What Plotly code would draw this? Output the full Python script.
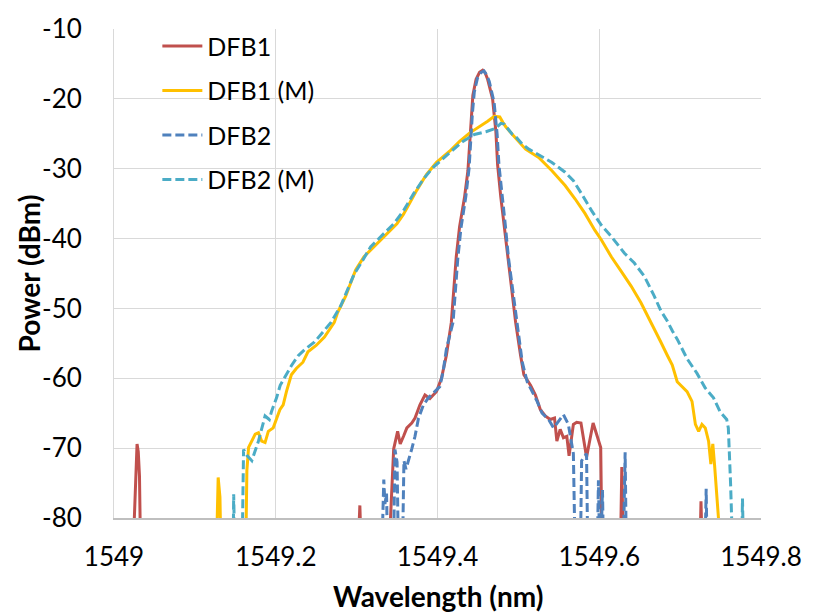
import plotly.graph_objects as go

# ---------------- data ----------------
dfb1_x = [
    1549.0220, 1549.0270, 1549.0285, 1549.0300, 1549.0315, 1549.0335,
    1549.3000, 1549.3040, 1549.3070,
    1549.3380, 1549.3458, 1549.3507, 1549.3539, 1549.3580, 1549.3621, 1549.3682, 1549.3722,
    1549.3783, 1549.3845, 1549.3906, 1549.3988, 1549.4049, 1549.4110, 1549.4171,
    1549.4232, 1549.4273, 1549.4334, 1549.4376, 1549.4395, 1549.4416, 1549.4437, 1549.4477,
    1549.4520, 1549.4559, 1549.4590, 1549.4620, 1549.4681, 1549.4722, 1549.4743, 1549.4783,
    1549.4823, 1549.4865, 1549.4926, 1549.4966, 1549.5027, 1549.5068, 1549.5150, 1549.5211,
    1549.5272, 1549.5333, 1549.5394, 1549.5447, 1549.5476, 1549.5517, 1549.5557, 1549.5599,
    1549.5627, 1549.5680, 1549.5721, 1549.5774, 1549.5843, 1549.5924, 1549.6018, 1549.6040,
    1549.6255, 1549.6279, 1549.6305,
    1549.7235, 1549.7258, 1549.7285,
]
dfb1_y = [
    -90, -72, -69.4, -70.5, -74, -90,
    -90, -78.2, -90,
    -90, -70.1, -67.6, -69.4, -68.3, -67.1, -66.4, -65.7,
    -63.8, -62.4, -62.9, -61.9, -60.0, -56.7, -52.0,
    -42.6, -38.3, -34.1, -30.3, -26.5, -22.3, -19.5, -17.2,
    -16.2, -15.9, -16.3, -17.2, -20.0, -24.7, -29.4, -34.1,
    -37.9, -42.6, -48.2, -52.0, -56.7, -59.5, -61.0, -62.4,
    -64.5, -65.4, -65.9, -65.7, -69.0, -67.3, -68.5, -68.3,
    -71.1, -66.6, -66.3, -66.4, -71.3, -66.4, -69.9, -90,
    -90, -72.7, -90,
    -90, -77.6, -90,
]

dfb1m_x = [
    1549.1256, 1549.1288, 1549.1310, 1549.1330,
    1549.1623, 1549.1643, 1549.1664, 1549.1704, 1549.1746, 1549.1786, 1549.1826, 1549.1868,
    1549.1908, 1549.1969, 1549.2010, 1549.2051, 1549.2092, 1549.2132, 1549.2193, 1549.2254,
    1549.2336, 1549.2398, 1549.2499, 1549.2602, 1549.2724, 1549.2765, 1549.2866, 1549.2927,
    1549.2988, 1549.3091, 1549.3213, 1549.3376, 1549.3498, 1549.3580, 1549.3703, 1549.3743,
    1549.3865, 1549.3988, 1549.4150, 1549.4273, 1549.4395, 1549.4517, 1549.4620, 1549.4701,
    1549.4770, 1549.4810, 1549.4844, 1549.4926, 1549.5089, 1549.5251, 1549.5415, 1549.5578,
    1549.5700, 1549.5823, 1549.5945, 1549.6027, 1549.6149, 1549.6272, 1549.6394, 1549.6516,
    1549.6597, 1549.6679, 1549.6761, 1549.6841, 1549.6903, 1549.6964, 1549.7025, 1549.7086,
    1549.7147, 1549.7189, 1549.7229, 1549.7270, 1549.7311, 1549.7352, 1549.7380, 1549.7404,
    1549.7425, 1549.7446, 1549.7474, 1549.7492,
]
dfb1m_y = [
    -90, -74.2, -77.0, -90,
    -90, -73.2, -69.9, -69.0, -68.0, -67.8, -69.0, -69.2,
    -67.6, -67.1, -65.7, -64.5, -63.8, -61.9, -59.5, -58.6,
    -57.7, -56.2, -55.3, -54.1, -52.0, -50.6, -48.2, -46.3,
    -44.5, -42.6, -41.2, -39.3, -37.9, -36.5, -33.9, -33.1,
    -30.8, -29.1, -27.5, -26.1, -24.9, -24.0, -23.2, -22.5,
    -22.6, -23.4, -24.0, -25.1, -27.2, -28.4, -30.3, -32.4,
    -34.3, -36.4, -38.8, -40.2, -42.6, -44.7, -46.8, -49.2,
    -51.0, -52.9, -54.8, -56.7, -58.1, -60.5, -61.2, -61.9,
    -63.3, -66.6, -67.6, -66.6, -67.1, -69.0, -72.3, -69.4,
    -72.3, -75.6, -80.0, -90,
]

dfb2_x = [
    1549.3300, 1549.3336, 1549.3350, 1549.3370, 1549.3390,
    1549.3450, 1549.3474, 1549.3500, 1549.3523,
    1549.3560, 1549.3585, 1549.3610, 1549.3682, 1549.3722, 1549.3765, 1549.3826, 1549.3887,
    1549.3948, 1549.4028, 1549.4069, 1549.4110, 1549.4192,
    1549.4250, 1549.4290, 1549.4350, 1549.4390, 1549.4410, 1549.4432, 1549.4455, 1549.4495,
    1549.4540, 1549.4575, 1549.4610, 1549.4640, 1549.4700, 1549.4737, 1549.4760, 1549.4798,
    1549.4838, 1549.4878, 1549.4940, 1549.4987,
    1549.5048, 1549.5109, 1549.5171, 1549.5232, 1549.5293, 1549.5374, 1549.5435, 1549.5496,
    1549.5557, 1549.5618, 1549.5680, 1549.5709,
    1549.5761, 1549.5782, 1549.5843, 1549.5863,
    1549.5969, 1549.5990, 1549.6010, 1549.6040, 1549.6060,
    1549.6290, 1549.6320, 1549.6340,
    1549.7300, 1549.7322, 1549.7340,
]
dfb2_y = [
    -90, -74.5, -78.0, -76.5, -90,
    -90, -70.2, -72.0, -90,
    -90, -71.8, -73.0, -70.1, -68.3, -65.7, -63.8, -62.8,
    -62.1, -61.2, -59.1, -55.8, -52.0,
    -43.0, -38.5, -34.0, -30.0, -26.0, -22.0, -19.0, -17.0,
    -16.2, -16.0, -16.6, -17.5, -20.5, -25.0, -29.5, -34.2,
    -38.0, -42.8, -48.3, -52.0,
    -57.7, -60.5, -61.9, -63.3, -65.0, -65.9, -67.1, -66.1,
    -65.2, -66.6, -70.8, -90,
    -90, -71.8, -70.8, -90,
    -90, -74.6, -88.0, -76.0, -90,
    -90, -70.6, -90,
    -90, -75.8, -90,
]

dfb2m_x = [
    1549.1468, 1549.1480, 1549.1501,
    1549.1578, 1549.1602, 1549.1640, 1549.1704, 1549.1786, 1549.1868, 1549.1920, 1549.1949,
    1549.2010, 1549.2055, 1549.2113, 1549.2193, 1549.2275, 1549.2357, 1549.2480, 1549.2602,
    1549.2683, 1549.2805, 1549.2887, 1549.2969, 1549.3050, 1549.3172, 1549.3336, 1549.3458,
    1549.3580, 1549.3703, 1549.3825, 1549.3947, 1549.4150, 1549.4314, 1549.4456, 1549.4599,
    1549.4722, 1549.4783, 1549.4823, 1549.4926, 1549.4966, 1549.5048, 1549.5129, 1549.5251,
    1549.5415, 1549.5578, 1549.5680, 1549.5782, 1549.5905, 1549.6027, 1549.6149, 1549.6312,
    1549.6434, 1549.6557, 1549.6679, 1549.6760, 1549.6841, 1549.6903, 1549.6964, 1549.7086,
    1549.7209, 1549.7311, 1549.7413, 1549.7495, 1549.7576, 1549.7596, 1549.7609, 1549.7624,
    1549.7637, 1549.7645,
    1549.7755, 1549.7771, 1549.7792,
]
dfb2m_y = [
    -90, -76.6, -90,
    -90, -70.2, -71.0, -71.8, -69.0, -65.4, -65.9, -64.7,
    -62.8, -61.0, -59.8, -58.2, -56.8, -55.9, -54.8, -53.2,
    -52.0, -49.6, -47.3, -45.1, -43.6, -41.2, -39.3, -37.9,
    -36.0, -33.6, -31.5, -29.8, -27.7, -26.1, -25.1, -24.7,
    -24.2, -23.5, -23.6, -25.1, -25.4, -26.5, -27.2, -28.0,
    -29.1, -30.5, -31.7, -33.6, -36.0, -38.1, -39.7, -42.1,
    -43.5, -45.4, -48.2, -50.3, -51.8, -53.2, -54.4, -57.2,
    -59.3, -61.4, -62.8, -64.8, -65.9, -67.1, -70.4, -75.1,
    -80.0, -90,
    -90, -77.2, -90,
]

series_names = ["DFB1", "DFB1 (M)", "DFB2", "DFB2 (M)"]
x_tick_vals = [1549, 1549.2, 1549.4, 1549.6, 1549.8]
x_tick_text = ["1549", "1549.2", "1549.4", "1549.6", "1549.8"]
y_tick_vals = [-10, -20, -30, -40, -50, -60, -70, -80]
y_tick_text = ["-10", "-20", "-30", "-40", "-50", "-60", "-70", "-80"]
x_title = "Wavelength (nm)"
y_title = "Power (dBm)"

# ---------------- figure ----------------
FONT = "Lato, 'Open Sans', sans-serif"
styles = [
    dict(color="#C0504D", width=3, dash="solid"),
    dict(color="#FFC000", width=3, dash="solid"),
    dict(color="#4F81BD", width=3, dash="9px,4px"),
    dict(color="#4BACC6", width=3, dash="9px,4px"),
]
data = [(dfb1_x, dfb1_y), (dfb1m_x, dfb1m_y), (dfb2_x, dfb2_y), (dfb2m_x, dfb2m_y)]

fig = go.Figure()
for (xs, ys), name, st in zip(data, series_names, styles):
    fig.add_trace(go.Scatter(x=xs, y=ys, mode="lines", name=name, line=st,
                             legendgroup=name))

fig.update_layout(
    width=814, height=613,
    margin=dict(l=114, r=46, t=23, b=95),
    paper_bgcolor="white", plot_bgcolor="white",
    font=dict(family=FONT, size=26, color="black"),
    showlegend=True,
    legend=dict(x=0.067, y=1.012, xanchor="left", yanchor="top",
                bgcolor="rgba(0,0,0,0)", font=dict(size=25),
                tracegroupgap=9, itemwidth=40),
    xaxis=dict(range=[1549, 1549.8], tickvals=x_tick_vals, ticktext=x_tick_text,
               showgrid=True, gridcolor="#D9D9D9", gridwidth=1,
               showline=True, linecolor="#BFBFBF", linewidth=1.5, mirror=False,
               zeroline=False, ticks="", ticklabelstandoff=15),
    yaxis=dict(range=[-80, -10], tickvals=y_tick_vals, ticktext=y_tick_text,
               showgrid=True, gridcolor="#D9D9D9", gridwidth=1,
               showline=True, linecolor="#D9D9D9", linewidth=1,
               zeroline=False, ticks="", ticklabelstandoff=26),
    annotations=[
        dict(text="<b>" + x_title + "</b>", xref="paper", yref="paper",
             x=0.5, y=-0.1596, xanchor="center", yanchor="middle",
             showarrow=False, font=dict(size=28)),
        dict(text="<b>" + y_title + "</b>", xref="paper", yref="paper",
             x=-0.1315, y=0.5, xanchor="center", yanchor="middle", textangle=-90,
             showarrow=False, font=dict(size=28)),
    ],
)

fig.write_html("out.html")
